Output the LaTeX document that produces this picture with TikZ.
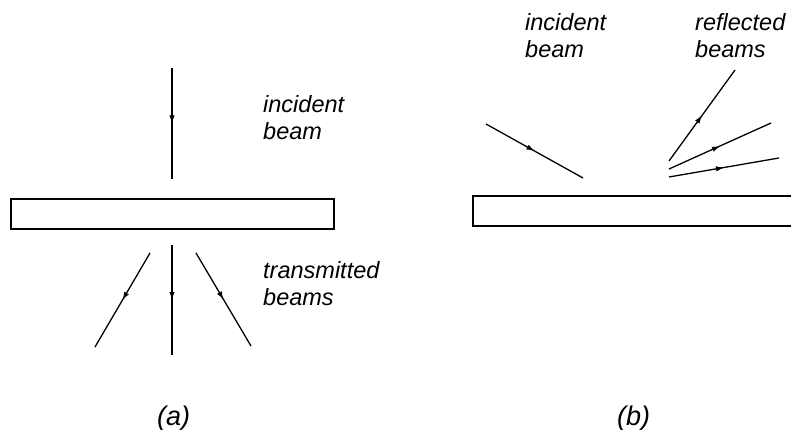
\documentclass[tikz,border=0pt]{standalone}
\usepackage{fontspec}
\setmainfont{Liberation Sans}
\usetikzlibrary{decorations.markings,arrows.meta}
\begin{document}
\begin{tikzpicture}[x=1pt,y=-1pt,
  beam/.style={line width=1.3pt, postaction={decorate},
    decoration={markings, mark=at position 0.5 with {\arrow{Latex[length=8pt,width=5.5pt]}}}},
  slab/.style={draw, line width=1.6pt},
  lbl/.style={font=\fontsize{23.5}{27}\selectfont\itshape, align=left, inner sep=0pt, anchor=base west},
  captext/.style={font=\fontsize{27}{30}\selectfont\itshape, inner sep=0pt, anchor=base west}]
\useasboundingbox (0,0) rectangle (791,430);

% (a) transmission through a thin plate
\node[slab, minimum width=323pt, minimum height=30pt, inner sep=0pt, anchor=north west] (plateA) at (10,198) {};
\coordinate (aInS) at (172,68);
\coordinate (aInE) at (172,179);
\draw[beam] (aInS) -- (aInE);
\coordinate (aTmS) at (172,245);
\coordinate (aTmE) at (172,355);
\coordinate (aTlS) at (150,253);
\coordinate (aTlE) at (95,347);
\coordinate (aTrS) at (196,253);
\coordinate (aTrE) at (251,346);
\draw[beam] (aTmS) -- (aTmE);
\draw[beam] (aTlS) -- (aTlE);
\draw[beam] (aTrS) -- (aTrE);
% multi-line labels are anchored at the baseline of their last line
\node[lbl] (labIncA) at (263,140) {incident\\beam};
\node[lbl] (labTrans) at (263,305) {transmitted\\beams};
\node[captext] (capA) at (157,425) {(a)};

% (b) reflection from a surface
\coordinate (bTR) at (791,196);
\coordinate (bTL) at (473,196);
\coordinate (bBL) at (473,226);
\coordinate (bBR) at (791,226);
\draw[line width=1.6pt] (bTR) -- (bTL) -- (bBL) -- (bBR);
\coordinate (bInS) at (486,124);
\coordinate (bInE) at (583,178);
\draw[beam] (bInS) -- (bInE);
\coordinate (bR1S) at (669,161);
\coordinate (bR1E) at (735,70);
\coordinate (bR2S) at (669,169);
\coordinate (bR2E) at (771,123);
\coordinate (bR3S) at (669,177);
\coordinate (bR3E) at (779,158);
\draw[beam] (bR1S) -- (bR1E);
\draw[beam] (bR2S) -- (bR2E);
\draw[beam] (bR3S) -- (bR3E);
\node[lbl] (labIncB) at (525,58) {incident\\beam};
\node[lbl] (labRefl) at (695,58) {reflected\\beams};
\node[captext] (capB) at (617,425) {(b)};
\end{tikzpicture}
\end{document}
